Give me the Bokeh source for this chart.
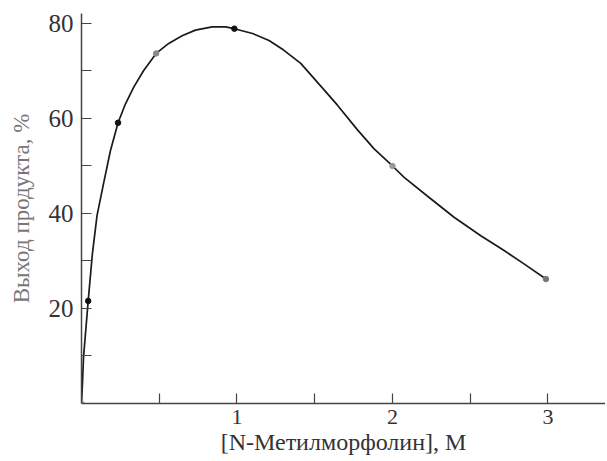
from bokeh.plotting import figure
from bokeh.models import FixedTicker, Range1d
from bokeh.embed import file_html
from bokeh.resources import INLINE

# Measured points
pt_x = [0.0, 0.043, 0.235, 0.48, 0.983, 2.0, 2.987]
pt_y = [0.0, 21.6, 59.1, 73.7, 78.9, 50.0, 26.2]
pt_colors = ["#aaaaaa", "#111111", "#111111", "#888888", "#111111", "#999999", "#777777"]

# Smooth hand-drawn curve
curve_x = [0.0, 0.006, 0.013, 0.043, 0.07, 0.100, 0.143, 0.186, 0.235, 0.283,
           0.336, 0.40, 0.48, 0.561, 0.647, 0.733, 0.84, 0.926, 0.983, 1.1,
           1.206, 1.30, 1.41, 1.539, 1.646, 1.775, 1.882, 2.0, 2.075, 2.246,
           2.396, 2.568, 2.718, 2.846, 2.987]
curve_y = [0.0, 4.05, 9.7, 21.6, 31.5, 39.6, 46.5, 53.2, 59.1, 63.1,
           66.6, 70.1, 73.7, 75.8, 77.4, 78.6, 79.3, 79.3, 78.9, 77.9,
           76.4, 74.4, 71.6, 66.8, 62.8, 57.6, 53.6, 50.0, 47.6, 43.1,
           39.2, 35.3, 32.2, 29.4, 26.2]

x_major = [1, 2, 3]
x_minor = [0.5, 1.5, 2.5]
y_major = [20, 40, 60, 80]
y_minor = [10, 30, 50, 70]

p = figure(width=605, height=458, output_backend="svg", toolbar_location=None,
           x_range=Range1d(0, 3.37), y_range=Range1d(0, 82.1),
           min_border_left=81, min_border_right=0, min_border_top=13,
           min_border_bottom=55)
p.outline_line_color = None
p.xgrid.visible = False
p.ygrid.visible = False
p.background_fill_color = "white"

p.line(curve_x, curve_y, line_width=1.7, color="#1a1a1a", line_join="round")
p.scatter(pt_x, pt_y, size=5.5, color=pt_colors)

for ax in (p.xaxis[0], p.yaxis[0]):
    ax.axis_line_color = "#444444"
    ax.axis_line_width = 1.5
    ax.major_tick_in = 10
    ax.major_tick_out = 0
    ax.minor_tick_in = 10
    ax.minor_tick_out = 0
    ax.major_tick_line_color = "#444444"
    ax.minor_tick_line_color = "#444444"
    ax.major_tick_line_width = 1.2
    ax.minor_tick_line_width = 1.2
    ax.major_label_text_font = "Liberation Serif"
    ax.major_label_text_color = "#333333"
    ax.axis_label_text_font = "Liberation Serif"
    ax.axis_label_text_font_style = "normal"

p.xaxis.ticker = FixedTicker(ticks=x_major, minor_ticks=x_minor)
p.yaxis.ticker = FixedTicker(ticks=y_major, minor_ticks=y_minor)

p.xaxis.major_label_text_font_size = "22px"
p.yaxis.major_label_text_font_size = "25px"
p.xaxis.major_label_standoff = 6
p.yaxis.major_label_standoff = 8

p.xaxis.axis_label = "[N-Метилморфолин], М"
p.xaxis.axis_label_text_font_size = "24px"
p.xaxis.axis_label_text_color = "#333333"
p.xaxis.axis_label_standoff = 2

p.yaxis.axis_label = "Выход продукта, %"
p.yaxis.axis_label_text_font_size = "23px"
p.yaxis.axis_label_text_color = "#777777"
p.yaxis.axis_label_standoff = 12

open("out.html", "w").write(file_html(p, INLINE))
